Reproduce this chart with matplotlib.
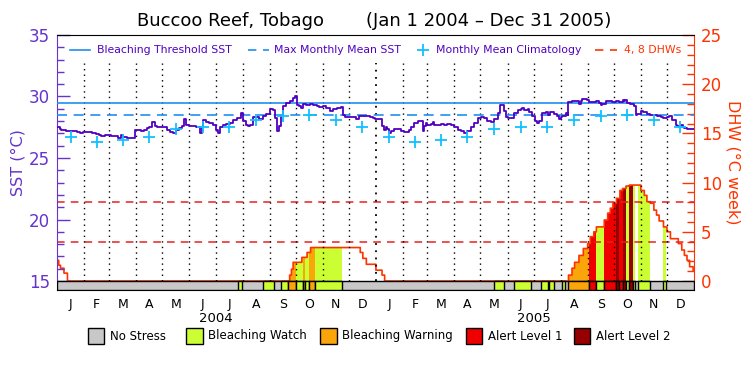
import numpy as np
import matplotlib.pyplot as plt

# SST (deg C), day 0 = 1 Jan 2004
sst_day = [0, 3, 5, 10, 15, 20, 23, 26, 30, 35, 40, 45, 48, 50, 55, 58, 62, 66, 70, 73, 76, 80, 85, 89,
           90, 93, 96, 100, 103, 106, 109, 112, 115, 120, 123, 126, 130, 133, 136, 140, 143, 146, 148,
           152, 156, 160, 164, 166, 168, 171, 175, 179,
           183, 185, 187, 190, 194, 198, 202, 206, 211, 213, 217, 219, 221, 225, 229, 232, 236, 240, 244,
           248, 250, 252, 255, 257, 259, 263, 267, 271, 273, 275, 278, 280, 282, 286, 290, 294, 298, 301,
           305, 309, 313, 317, 321, 326, 328, 330, 340, 343, 347, 351, 359, 363, 365,
           368, 372, 373, 375, 377, 379, 381, 383, 387, 391, 395, 398, 402, 404, 406, 410, 414, 418, 420,
           421, 423, 425, 429, 431, 433, 437, 441, 444, 448, 452, 456, 460, 464, 467, 471, 475, 479, 483,
           487, 490, 494, 498, 502, 506, 508, 512, 513, 515, 517, 521, 525, 529, 532, 534, 536, 540,
           542, 545, 549, 551, 553, 557, 561, 563, 566, 570, 574, 576, 578, 580, 584, 586, 587, 591, 595,
           599, 601, 603, 606, 608, 610, 614, 618, 622, 624, 626, 630, 633, 637, 641, 645, 649, 651, 652,
           654, 658, 662, 664, 666, 670, 673, 677, 681, 685, 689, 693, 696, 700, 702, 706, 710, 712, 714,
           716, 718, 720, 723, 727, 731]
sst_val = [27.5, 27.35, 27.25, 27.2, 27.2, 27.2, 27.1, 27.0, 27.1, 27.1, 27.0, 26.95, 26.9, 26.8, 26.9,
           26.9, 26.75, 26.75, 26.6, 26.85, 26.7, 26.65, 26.65, 26.65,
           27.3, 27.3, 27.2, 27.25, 27.4, 27.5, 27.9, 27.6, 27.5, 27.5, 27.5, 27.3, 27.1, 27.05, 27.3, 27.4,
           27.6, 28.2, 27.7, 27.6, 27.6, 27.5, 27.05, 27.5, 28.1, 27.95, 27.85, 27.7,
           27.3, 27.0, 27.5, 27.66, 27.76, 27.85, 28.12, 28.25, 28.66, 27.98, 27.71, 27.57, 27.71, 28.31,
           28.31, 28.2, 28.39, 28.58, 29.0, 28.93, 28.25, 27.22, 27.57, 28.39, 29.2, 29.47, 29.66, 29.88,
           30.02, 29.34, 29.2, 29.07, 29.39, 29.34, 29.39, 29.34, 29.2, 29.12, 29.2, 29.07, 28.85, 29.01,
           29.07, 29.12, 28.52, 28.31, 28.31, 28.2, 28.39, 28.39, 28.31, 28.25, 28.2,
           28.2, 28.15, 27.57, 27.3, 27.49, 27.38, 27.03, 27.17, 27.38, 27.38, 27.17, 27.11, 27.11, 27.3,
           27.49, 27.85, 27.98, 27.98, 27.22, 27.57, 27.85, 27.66, 27.76, 27.93, 27.66, 27.66, 27.76, 27.66,
           27.76, 27.66, 27.49, 27.3, 27.22, 27.03, 27.17, 27.49, 27.85, 28.25, 28.31, 28.25, 28.04, 27.93,
           28.15, 28.66, 29.28, 29.28, 28.79, 28.31, 28.25, 28.25, 28.66, 28.93, 29.01, 29.07, 28.93, 29.01,
           28.74, 28.39, 27.98, 27.85, 27.98, 28.66, 28.74, 28.52, 28.74, 28.58, 28.39, 28.2, 28.31, 28.39,
           28.66, 28.52, 29.55, 29.66, 29.66, 29.39, 29.61, 29.8, 29.83, 29.74, 29.55, 29.55, 29.61, 29.47,
           29.28, 29.39, 29.61, 29.61, 29.55, 29.61, 29.55, 29.74, 29.61, 29.74, 29.47, 29.39, 29.2, 28.47,
           28.58, 28.85, 28.74, 28.58, 28.52, 28.47, 28.39, 28.31, 28.25, 28.31, 28.39, 28.12, 27.71, 27.57,
           27.49, 27.66, 27.49, 27.44, 27.38, 27.38, 27.38]

clim_month = [26.68, 26.28, 26.5, 26.68, 27.33, 27.48, 27.48, 28.05, 28.43, 28.47, 28.08, 27.49]
mmm = 28.47
threshold = mmm + 1.0

# DHW (deg C week), step values starting at each day
dhw_day = [0, 2, 4, 8, 12, 267, 269, 271, 281, 287, 291, 348, 351, 355, 366, 373, 376,
           587, 591, 594, 599, 604, 609, 612, 616, 619, 628, 632, 635, 638, 642, 646, 649, 653, 657,
           670, 674, 677, 681, 685, 688, 691, 696, 700, 704, 713, 717, 720, 723, 726, 730]
dhw_val = [2.1, 1.6, 1.3, 0.8, 0.0, 0.6, 1.2, 1.9, 2.4, 2.9, 3.4, 2.9, 2.3, 1.7, 1.1, 0.6, 0.0,
           0.6, 1.3, 1.9, 2.6, 3.3, 3.8, 4.5, 5.0, 5.5, 6.2, 6.9, 7.4, 7.9, 8.4, 9.2, 9.4, 9.65, 9.75,
           9.2, 8.7, 8.06, 7.9, 7.2, 6.7, 6.1, 5.5, 5.0, 4.3, 3.8, 3.15, 2.6, 2.1, 1.45, 1.0]

# stress level runs: start day, end day, level (1 watch, 2 warning, 3 alert 1, 4 alert 2)
run_start = [208, 236, 257, 265, 274, 282, 285, 289, 296,
             502, 524, 556, 565, 579, 587, 611, 619, 628, 642, 645, 649, 653, 657, 661, 667, 696]
run_end = [212, 249, 265, 274, 282, 285, 289, 296, 327,
           513, 544, 563, 570, 583, 611, 619, 628, 642, 645, 649, 653, 657, 661, 663, 681, 699]
run_level = [1, 1, 1, 2, 1, 2, 1, 2, 1,
             1, 1, 1, 1, 1, 2, 3, 1, 3, 4, 3, 4, 1, 4, 1, 1, 1]

stress_names = ['No Stress', 'Bleaching Watch', 'Bleaching Warning', 'Alert Level 1', 'Alert Level 2']
stress_colors = ['#C8C8C8', '#CCFF33', '#FAA50A', '#EE0000', '#960000']
month_letters = list('JFMAMJJASOND') * 2

purple = '#6633CC'
sst_col = '#5000C0'
blue = '#2090F0'
cyan = '#10C0FF'
red = '#FF3300'
dash_red = '#E82020'

n_days = 731
y_bottom = 14.27

fig = plt.figure(figsize=(7.5, 3.75), dpi=100)
ax = fig.add_axes([0.076, 0.2267, 0.8493, 0.68])
ax2 = ax.twinx()
ax.set_xlim(0, n_days)
ax.set_ylim(y_bottom, 35)
ax2.set_ylim((y_bottom - 15) * 1.25, 25)

# month boundaries and centres
month_start = np.arange('2004-01', '2006-02', dtype='datetime64[M]').astype('datetime64[D]')
month_start = (month_start - np.datetime64('2004-01-01')).astype(int)
month_mid = (month_start[:-1] + month_start[1:]) / 2

for i, m in enumerate(month_start[1:-1]):
    ax.vlines(m, 15, 32.7, colors='black', linestyles=(0, (1, 3)),
              linewidth=1.3 if i == 11 else 1.0, zorder=1)

# DHW step curve and coloured fill by stress level
dhw_day_a = np.array(dhw_day)
dhw_val_a = np.array(dhw_val)
days = np.arange(n_days + 1)
dhw_daily = dhw_val_a[np.searchsorted(dhw_day_a, days, side='right') - 1]
for s, e, lv in zip(run_start, run_end, run_level):
    d = np.arange(s, e + 1)
    ax2.fill_between(d, 0, dhw_daily[d], step='post', color=stress_colors[lv],
                     linewidth=0, zorder=2)
ax2.step(days, dhw_daily, where='post', color=red, linewidth=1.2, zorder=3)
for lvl in (4, 8):
    ax2.axhline(lvl, color=dash_red, linestyle=(0, (5, 4)), linewidth=1.1, zorder=3)

# stress bar along the bottom
ax.broken_barh([(0, n_days)], (y_bottom, 15 - y_bottom), facecolors=stress_colors[0],
               edgecolor='black', linewidth=1.0, zorder=4)
ax.broken_barh([(s, e - s) for s, e in zip(run_start, run_end)], (y_bottom, 15 - y_bottom),
               facecolors=[stress_colors[lv] for lv in run_level],
               edgecolor='black', linewidth=1.0, zorder=4)

# SST lines
ax.axhline(threshold, color=blue, linewidth=1.2, zorder=5)
ax.axhline(mmm, color=blue, linestyle=(0, (6, 4)), linewidth=1.2, zorder=5)
ax.step(sst_day, sst_val, where='post', color=sst_col, linewidth=1.3, zorder=6)
clim = clim_month * 2
ax.plot(month_mid, clim, linestyle='none', marker='+', markersize=9,
        markeredgewidth=1.3, color=cyan, zorder=7)
ax.set_zorder(ax2.get_zorder() + 1)
ax.patch.set_visible(False)

# axes styling
ax.set_xticks([])
ax.set_yticks([15, 20, 25, 30, 35])
ax.set_yticks(np.arange(15, 36, 1), minor=True)
ax.tick_params(axis='y', which='major', direction='in', length=9, width=1,
               colors=purple, labelsize=12, pad=5)
ax.tick_params(axis='y', which='minor', direction='in', length=5, width=1, colors=purple)
ax2.set_yticks([0, 5, 10, 15, 20, 25])
ax2.set_yticks(np.arange(0, 26, 1), minor=True)
ax2.tick_params(axis='y', which='major', direction='in', length=9, width=1,
                colors=red, labelsize=12, pad=5)
ax2.tick_params(axis='y', which='minor', direction='in', length=5, width=1, colors=red)
ax.spines['left'].set_color(purple)
ax2.spines['left'].set_visible(False)
ax.spines['right'].set_visible(False)
ax2.spines['right'].set_color(red)
ax.spines['top'].set_color('black')
ax2.spines['top'].set_visible(False)
ax.spines['bottom'].set_color('#000030')
ax2.spines['bottom'].set_visible(False)
ax.set_ylabel('SST (°C)', color=purple, fontsize=11.5)
ax.yaxis.set_label_coords(-0.050, 0.5)
ax2.set_ylabel('DHW (°C week)', color=red, fontsize=11.5, rotation=270, va='bottom')
ax2.yaxis.set_label_coords(1.049, 0.5)

for x, lab in zip(month_mid, month_letters):
    ax.text(x, -0.03, lab, transform=ax.get_xaxis_transform(), ha='center', va='top',
            fontsize=9)
ax.text(month_start[6], -0.085, '2004', transform=ax.get_xaxis_transform(), ha='center',
        va='top', fontsize=9.5)
ax.text(month_start[18], -0.085, '2005', transform=ax.get_xaxis_transform(), ha='center',
        va='top', fontsize=9.5)

# title
fig.text(0.307, 0.945, 'Buccoo Reef, Tobago', ha='center', va='center', fontsize=13)
fig.text(0.652, 0.945, '(Jan 1 2004 – Dec 31 2005)', ha='center', va='center', fontsize=13)

# top legend
ly = 0.867
fig.add_artist(plt.Line2D([0.093, 0.12], [ly, ly], color=blue, linewidth=1.2))
fig.text(0.129, ly, 'Bleaching Threshold SST', color=sst_col, fontsize=7.8, va='center')
fig.add_artist(plt.Line2D([0.331, 0.358], [ly, ly], color=blue, linewidth=1.2,
                          linestyle=(0, (5, 4))))
fig.text(0.366, ly, 'Max Monthly Mean SST', color=sst_col, fontsize=7.8, va='center')
fig.add_artist(plt.Line2D([0.564], [ly], color=cyan, marker='+', markersize=8,
                          markeredgewidth=1.3))
fig.text(0.582, ly, 'Monthly Mean Climatology', color=sst_col, fontsize=7.8, va='center')
fig.add_artist(plt.Line2D([0.793, 0.823], [ly, ly], color=red, linewidth=1.2,
                          linestyle=(0, (5, 4))))
fig.text(0.832, ly, '4, 8 DHWs', color=red, fontsize=7.8, va='center')

# stress legend
lx = [0.117, 0.248, 0.427, 0.621, 0.765]
for x0, name, col in zip(lx, stress_names, stress_colors):
    fig.add_artist(plt.Rectangle((x0, 0.083), 0.022, 0.043, facecolor=col,
                                 edgecolor='black', linewidth=1.0))
    fig.text(x0 + 0.029, 0.104, name, fontsize=8.5, va='center')

fig.savefig('out.png', dpi=100)
